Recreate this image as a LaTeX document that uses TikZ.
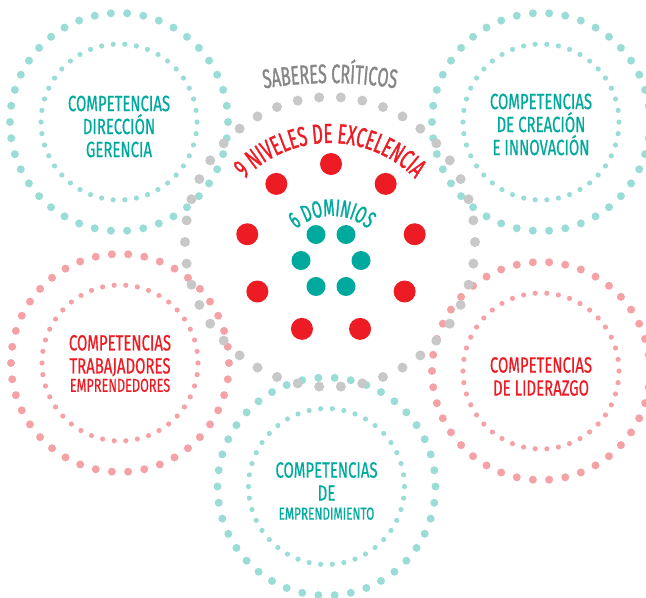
\documentclass[tikz,border=0pt]{standalone}
\usepackage{fontspec}
\newfontfamily\condfont[FakeStretch=0.68, FakeBold=0.6]{Fira Sans}
\newfontfamily\arcfont[FakeStretch=0.6, FakeBold=1.2]{Fira Sans}
\usetikzlibrary{calc,decorations.text}
\definecolor{ringteal}{HTML}{9ADDD7}
\definecolor{ringpink}{HTML}{F5A2A7}
\definecolor{ringgray}{HTML}{C8C8C8}
\definecolor{dotred}{HTML}{ED1C24}
\definecolor{dotteal}{HTML}{00A99D}
\definecolor{textgray}{HTML}{878787}
\def\dotring[#1](#2)(#3:#4){\foreach \k in {0,...,41} \fill[#1] ($(#2)+(\k*360/42:#3)$) circle (#4);}

\begin{document}
\begin{tikzpicture}[x=0.75pt, y=-0.75pt,
		comptext/.style={align=center, font=\condfont\fontsize{16.5}{17.25}\selectfont}]
		%%%%% START %%%%%
		
		\clip (0, 0) rectangle (646, 597);
		
		\dotring[ringteal](119, 122)(109:4)
		\dotring[ringteal](119, 122)(78:2.6)
		\dotring[ringteal](541, 122)(109:4)
		\dotring[ringteal](541, 122)(78:2.6)
		
		\dotring[ringpink](120, 363)(109:4)
		\dotring[ringpink](120, 363)(78:2.6)
		\dotring[ringpink](541, 371)(109:4)
		\dotring[ringpink](541, 371)(78:2.6)
		
		\dotring[ringteal](326.5, 486.5)(109:4)
		\dotring[ringteal](326.5, 486.5)(78:2.6)
		
		\dotring[ringgray](330, 242)(145:5)
		
		\foreach \k in {0,...,8}
			\fill[dotred] ($(331, 249)+(-90+\k*40:85)$) circle (11);
		\foreach \k in {0,...,5}
			\fill[dotteal] ($(331, 260.5)+(\k*60:30)$) circle (9.5);
		
		\path[decorate, decoration={text along path, text align=center, text color=textgray,
			text={|\arcfont\fontsize{20}{22}\selectfont|SABERES CRÍTICOS}}]
			(330, 483) ++(-110:400) arc (-110:-70:400);
		\path[decorate, decoration={text along path, text align=center, text color=dotred,
			text={|\arcfont\fontsize{20.7}{22}\selectfont|9 NIVELES DE EXCELENCIA}}]
			(330, 262) ++(190:119) arc (190:350:119);
		\path[decorate, decoration={text along path, text align=center, text color=dotteal,
			text={|\arcfont\fontsize{18}{20}\selectfont|6 DOMINIOS}}]
			(332, 272) ++(190:56) arc (190:350:56);
		
		\node[comptext, text=dotteal] (direccion) at (119, 126.5) {COMPETENCIAS\\DIRECCIÓN\\GERENCIA};
		\node[comptext, text=dotteal] (creacion) at (541, 124.5) {COMPETENCIAS\\DE CREACIÓN\\E INNOVACIÓN};
		\node[comptext, text=dotred] (trabajadores) at (120, 363.5) {COMPETENCIAS\\TRABAJADORES\\[-3.5pt]{\fontsize{14}{15}\selectfont EMPRENDEDORES}};
		\node[comptext, text=dotred] (liderazgo) at (541, 376.5) {COMPETENCIAS\\DE LIDERAZGO};
		\node[comptext, text=dotteal] (emprendimiento) at (326.5, 491) {COMPETENCIAS\\DE\\[-3pt]{\fontsize{13}{14}\selectfont EMPRENDIMIENTO}};
		
		%%%%% END %%%%%
\end{tikzpicture}
\end{document}
